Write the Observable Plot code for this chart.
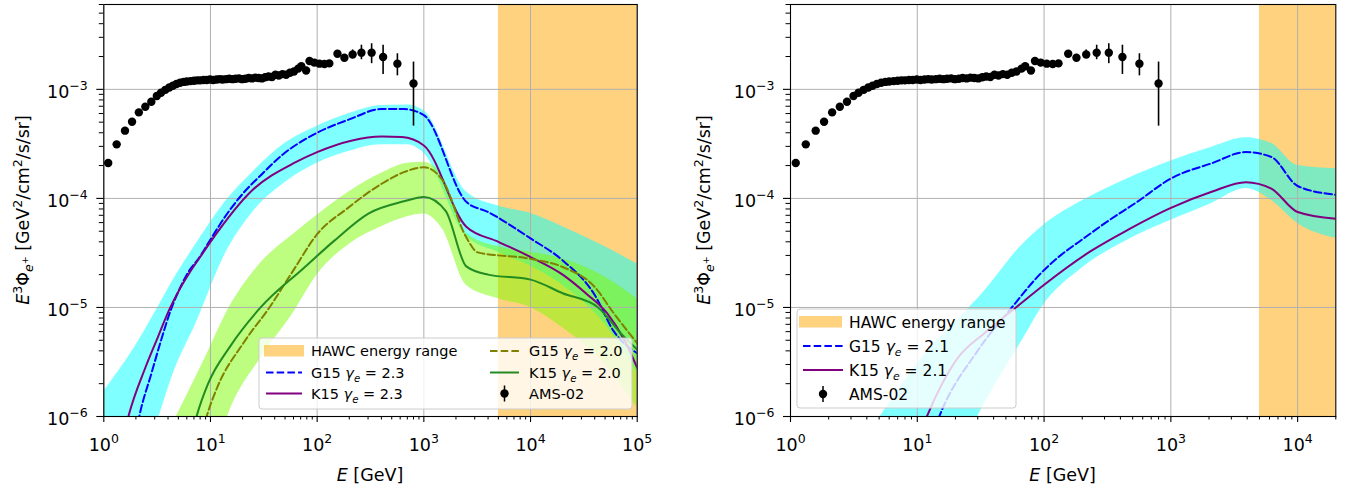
<!DOCTYPE html>
<html><head><meta charset="utf-8">
<script src="https://cdn.jsdelivr.net/npm/d3@7"></script>
<script src="https://cdn.jsdelivr.net/npm/@observablehq/plot@0.6"></script>
<style>
body{margin:0;background:#fff;}
#wrap{position:relative;width:1348px;height:491px;overflow:hidden;}
.panel{position:absolute;top:0;}
</style></head>
<body><div id="wrap"><div id="pl" class="panel" style="left:0"></div><div id="pr" class="panel" style="left:674px"></div></div>
<script>
// ---------- data ----------
const hawcStart = 5000;
// AMS-02 positron flux (E^3 * flux)
const amsE  = [1.10,1.32,1.58,1.84,2.13,2.45,2.79,3.14,3.44,3.78,4.11,4.44,4.80,5.19,5.6,6.0,6.5,7.0,7.5,8.0,8.6,9.2,9.9,10.6,11.4,12.2,13.0,14.0,15.0,16.1,17.2,18.5,19.8,21.3,22.8,24.5,26.3,28.2,30.3,32.5,35.0,37.7,40.6,43.7,47.3,51.2,55.6,60.6,66.4,71,78.8,84.8,94,105,117,130,155,180,215,260,324,415,565,800];
const amsF  = [2.11e-4,3.13e-4,4.18e-4,5.05e-4,6.15e-4,6.93e-4,7.7e-4,8.7e-4,9.3e-4,9.9e-4,1.04e-3,1.08e-3,1.12e-3,1.15e-3,1.17e-3,1.18e-3,1.19e-3,1.20e-3,1.21e-3,1.21e-3,1.22e-3,1.22e-3,1.23e-3,1.22e-3,1.23e-3,1.24e-3,1.23e-3,1.24e-3,1.25e-3,1.24e-3,1.25e-3,1.26e-3,1.24e-3,1.25e-3,1.27e-3,1.26e-3,1.28e-3,1.27e-3,1.26e-3,1.29e-3,1.31e-3,1.30e-3,1.36e-3,1.34e-3,1.38e-3,1.36e-3,1.42e-3,1.46e-3,1.55e-3,1.63e-3,1.49e-3,1.82e-3,1.76e-3,1.72e-3,1.71e-3,1.73e-3,2.12e-3,1.95e-3,2.09e-3,2.17e-3,2.17e-3,1.98e-3,1.72e-3,1.13e-3];
const amsErrE  = [130,155,180,215,260,324,415,565,800];
const amsErrLo = [1.63e-3,1.98e-3,1.82e-3,1.92e-3,1.87e-3,1.72e-3,1.37e-3,1.33e-3,4.6e-4];
const amsErrHi = [1.83e-3,2.27e-3,2.09e-3,2.30e-3,2.54e-3,2.62e-3,2.54e-3,2.12e-3,1.78e-3];

// left panel (gamma_e = 2.3 and 2.0)
const g23E = [2.0,2.15,2.8,3.4,4.2,5,6,8,10,14,20,30,47,100,200,400,650,1000,2500,4000,10000,20000,40000,60000,100000];
const g23F = [7e-7,1e-6,2.5e-6,4.8e-6,9.2e-6,1.4e-5,2e-5,2.95e-5,4.2e-5,7e-5,1.1e-4,1.65e-4,2.5e-4,4.0e-4,5.3e-4,6.6e-4,6.6e-4,5.8e-4,9.3e-5,7.5e-5,4.3e-5,2.7e-5,1.3e-5,6.1e-6,3.8e-6];
const k23E = [1.5,1.7,2.45,3.2,4.1,5.2,6.3,8,10.2,24.5,63,100,405,620,1000,2500,5000,10000,20000,33000,52000,76000,100000];
const k23F = [6e-7,1e-6,2.8e-6,5.3e-6,9.5e-6,1.5e-5,2.05e-5,2.9e-5,4.1e-5,1.18e-4,2.15e-4,2.66e-4,3.7e-4,3.65e-4,3.06e-4,5.5e-5,4.0e-5,2.9e-5,2.0e-5,1.35e-5,8.9e-6,5e-6,2.8e-6];
const g20E = [8,9.2,11.6,20.3,35.7,60,100,192,406,650,1000,1500,2500,3200,9800,20000,40000,60000,100000];
const g20F = [6e-7,1e-6,1.86e-6,4.7e-6,1e-5,2.2e-5,4.7e-5,8.1e-5,1.37e-4,1.74e-4,1.93e-4,1.46e-4,4.4e-5,3.2e-5,2.8e-5,2.35e-5,1.54e-5,8.9e-6,4.7e-6];
const k20E = [6.5,7.4,9.5,15.3,29.5,75,145,305,650,1000,1600,2500,4000,10000,20000,43000,70000,100000];
const k20F = [6e-7,1e-6,2e-6,4.4e-6,1e-5,2.3e-5,4.1e-5,7.3e-5,9.4e-5,1.03e-4,7.7e-5,2.38e-5,2.0e-5,1.8e-5,1.35e-5,1.0e-5,5.8e-6,4.1e-6];
const band23E  = [1,2,3.3,4.5,7.3,14,25,50,100,200,400,700,1000,2500,5000,10000,20000,50000,100000];
const band23Hi = [1.7e-6,4.5e-6,1.05e-5,1.8e-5,3.8e-5,9.5e-5,1.75e-4,3.2e-4,4.6e-4,6e-4,7.1e-4,7.2e-4,6.4e-4,1.15e-4,8.5e-5,7.3e-5,5.5e-5,3.6e-5,2.5e-5];
const band23Lo = [5e-8,2.5e-7,1e-6,2.5e-6,7.1e-6,3.2e-5,7.5e-5,1.4e-4,2.1e-4,2.7e-4,3.1e-4,3.1e-4,2.6e-4,4.5e-5,3.2e-5,2.4e-5,1.6e-5,7e-6,2.5e-6];
const band20E  = [4.8,9,15,30,60,100,200,400,700,1000,1500,2500,5000,10000,20000,50000,100000];
const band20Hi = [1e-6,3.5e-6,1e-5,2.6e-5,4.7e-5,7e-5,1.15e-4,1.7e-4,2.1e-4,2.15e-4,1.6e-4,4.8e-5,3.6e-5,3.2e-5,2.8e-5,1.9e-5,1.2e-5];
const band20Lo = [2e-8,2.2e-7,1.1e-6,3.5e-6,9e-6,2e-5,3.8e-5,5.5e-5,6.8e-5,7.2e-5,5.2e-5,1.6e-5,1.2e-5,1e-5,6.5e-6,3e-6,1.2e-6];

// right panel (gamma_e = 2.1)
const g21E = [12,14.9,29.9,55.7,96,130,200,300,550,980,2100,3900,6200,10000,20000];
const g21F = [5e-7,1e-6,4e-6,1e-5,2.1e-5,2.9e-5,4.2e-5,5.9e-5,9.4e-5,1.5e-4,2.1e-4,2.66e-4,2.4e-4,1.3e-4,1.08e-4];
const k21E = [10,11.9,20.3,35,60,99,235,465,980,2100,3900,6200,10000,20000];
const k21F = [6e-7,1e-6,3.3e-6,6e-6,1e-5,1.6e-5,3.3e-5,5.2e-5,8.1e-5,1.15e-4,1.41e-4,1.23e-4,7.5e-5,6.5e-5];
const band21E  = [3,5.1,11,25.8,30,68,96,200,446,1000,2100,3900,6200,10000,20000];
const band21Hi = [4e-7,1e-6,3.5e-6,1e-5,1.2e-5,3.8e-5,5.5e-5,9.5e-5,1.5e-4,2.2e-4,2.95e-4,3.6e-4,3.2e-4,2.0e-4,1.87e-4];
const band21Lo = [1e-8,3e-8,1.3e-7,7e-7,1e-6,5.1e-6,1e-5,2.3e-5,4.1e-5,6.3e-5,9e-5,1.23e-4,9.6e-5,5.9e-5,4.3e-5];

const yTicks = [1e-6,1e-5,1e-4,1e-3];
const xTicksL = [1,10,100,1e3,1e4,1e5];
const xTicksR = [1,10,100,1e3,1e4];
const yDomain = [1e-6, 6e-3];

// ---------- helpers ----------
const zip = (E, F) => E.map((e,i)=>({E:e, F:F[i]}));
const zipBand = (E, lo, hi) => E.map((e,i)=>({E:e, lo:lo[i], hi:hi[i]}));
const ams = zip(amsE, amsF);
const amsErr = amsErrE.map((e,i)=>({E:e, lo:amsErrLo[i], hi:amsErrHi[i]}));
function minorTicks(lo, hi){ const out=[]; for(let d=lo; d<hi; d*=10) for(let k=2;k<10;k++){ if(d*k<=hi*1.0001) out.push(d*k);} return out; }
const FONT = "DejaVu Sans";
const fmt = d => "10^" + Math.round(Math.log10(d));
const NS = "http://www.w3.org/2000/svg";
const DASH = "7.5,3.2";
const CURVE = "monotone-x";

function gridMarks(xTicks){
  return [
    Plot.gridX(xTicks, {stroke:"#b0b0b0", strokeOpacity:1, strokeWidth:1}),
    Plot.gridY(yTicks, {stroke:"#b0b0b0", strokeOpacity:1, strokeWidth:1}),
  ];
}
function tickMarks(xTicks, xDom){
  return [
    Plot.axisX(xTicks, {anchor:"bottom", tickSize:6, tickPadding:16, tickFormat:fmt, fontSize:17.5, label:null, strokeWidth:1.1}),
    Plot.axisX(minorTicks(xDom[0], xDom[1]), {anchor:"bottom", tickSize:3.5, tickFormat:()=>"", label:null, strokeWidth:1}),
    Plot.axisY(yTicks, {anchor:"left", tickSize:7, tickPadding:9, tickFormat:fmt, fontSize:17.5, label:null, strokeWidth:1.1}),
    Plot.axisY(minorTicks(1e-6, 6e-3), {anchor:"left", tickSize:4.5, tickFormat:()=>"", label:null, strokeWidth:1}),
    Plot.frame({stroke:"#000", strokeWidth:1.1})
  ];
}

function supLabels(svg){
  svg.querySelectorAll("text").forEach(t=>{
    const m = t.textContent.match(/^10\^(-?\d+)$/);
    if(!m) return;
    const isY = t.closest('g[aria-label^="y-axis"]') !== null;
    t.textContent = "";
    const b = document.createElementNS(NS,"tspan"); b.textContent = "10";
    if(isY) b.setAttribute("dy", "3");
    const s = document.createElementNS(NS,"tspan"); s.textContent = m[1].replace("-", "\u2212");
    s.setAttribute("font-size", "12.5"); s.setAttribute("dy", "-8");
    t.append(b, s);
  });
}

function addLabels(svg, cx, ylabCx){
  const g = d3.select(svg).append("g").attr("font-family", FONT).attr("fill","#000");
  const xt = g.append("text").attr("x", cx).attr("y", 481).attr("text-anchor","middle").attr("font-size", 17.5);
  xt.append("tspan").attr("font-style","italic").text("E");
  xt.append("tspan").text(" [GeV]");
  const yt = g.append("text").attr("transform", `translate(${ylabCx},210) rotate(-90)`).attr("text-anchor","middle").attr("font-size",17.5);
  yt.append("tspan").attr("font-style","italic").text("E");
  yt.append("tspan").attr("font-size",12.5).attr("dy",-7).text("3");
  yt.append("tspan").attr("dy",7).text("\u03A6");
  yt.append("tspan").attr("font-size",12.5).attr("font-style","italic").attr("dy",4).text("e");
  yt.append("tspan").attr("font-size",9.5).attr("dy",-5).text("+");
  yt.append("tspan").attr("dy",1).text(" [GeV");
  yt.append("tspan").attr("font-size",12.5).attr("dy",-7).text("2");
  yt.append("tspan").attr("dy",7).text("/cm");
  yt.append("tspan").attr("font-size",12.5).attr("dy",-7).text("2");
  yt.append("tspan").attr("dy",7).text("/s/sr]");
}

function gammaLabel(sel, name, val){
  sel.append("tspan").text(name + " ");
  sel.append("tspan").attr("font-style","italic").text("\u03B3");
  sel.append("tspan").attr("font-style","italic").attr("font-size","0.7em").attr("dy",4).text("e");
  sel.append("tspan").attr("dy",-4).text(" = " + val);
}

function legend(svg, box, fontSize, items){
  const g = d3.select(svg).append("g").attr("font-family", FONT).attr("font-size", fontSize).attr("text-anchor","start");
  g.append("rect").attr("x",box.x).attr("y",box.y).attr("width",box.w).attr("height",box.h)
    .attr("rx",3).attr("fill","#fff").attr("fill-opacity",0.8).attr("stroke","#cccccc").attr("stroke-width",1);
  for(const it of items){
    const [hx1,hx2] = it.hx, y = it.y;
    if(it.type==="patch") g.append("rect").attr("x",hx1).attr("y",y-6).attr("width",hx2-hx1).attr("height",11.5).attr("fill","#ffa500").attr("fill-opacity",0.5);
    if(it.type==="line") g.append("line").attr("x1",hx1).attr("x2",hx2).attr("y1",y).attr("y2",y).attr("stroke",it.color).attr("stroke-width",2).attr("stroke-dasharray", it.dash?DASH:null);
    if(it.type==="err"){ const cx=(hx1+hx2)/2; g.append("line").attr("x1",cx).attr("x2",cx).attr("y1",y-8).attr("y2",y+8).attr("stroke","#000").attr("stroke-width",1.5); g.append("circle").attr("cx",cx).attr("cy",y).attr("r",4.2).attr("fill","#000"); }
    const t = g.append("text").attr("x",it.tx).attr("y",y).attr("dy","0.36em").attr("fill","#000").attr("text-anchor","start");
    if(it.gamma) gammaLabel(t, it.gamma[0], it.gamma[1]); else t.text(it.text);
  }
}

// ---------- left panel ----------
const L = Plot.plot({
  width:674, height:491, marginLeft:103.3, marginRight:37.3, marginTop:4, marginBottom:75,
  style:{fontFamily:FONT, background:"#fff", color:"#000"},
  x:{type:"log", domain:[1,1e5]},
  y:{type:"log", domain:yDomain},
  marks:[
    Plot.rect([{x1:hawcStart, x2:1e5}], {x1:"x1", x2:"x2", fill:"#ffa500", fillOpacity:0.5}),
    Plot.areaY(zipBand(band23E, band23Lo, band23Hi), {x:"E", y1:"lo", y2:"hi", fill:"#00ffff", fillOpacity:0.5, curve:CURVE, clip:true}),
    Plot.areaY(zipBand(band20E, band20Lo, band20Hi), {x:"E", y1:"lo", y2:"hi", fill:"#7cfc00", fillOpacity:0.5, curve:CURVE, clip:true}),
    ...gridMarks(xTicksL),
    Plot.line(zip(g23E,g23F), {x:"E", y:"F", stroke:"#0000ff", strokeWidth:2, strokeDasharray:DASH, curve:CURVE, clip:true}),
    Plot.line(zip(k23E,k23F), {x:"E", y:"F", stroke:"#800080", strokeWidth:2, curve:CURVE, clip:true}),
    Plot.line(zip(g20E,g20F), {x:"E", y:"F", stroke:"#808000", strokeWidth:2, strokeDasharray:DASH, curve:CURVE, clip:true}),
    Plot.line(zip(k20E,k20F), {x:"E", y:"F", stroke:"#228b22", strokeWidth:2, curve:CURVE, clip:true}),
    Plot.ruleX(amsErr, {x:"E", y1:"lo", y2:"hi", stroke:"#000", strokeWidth:1.6}),
    Plot.dot(ams, {x:"E", y:"F", r:4.2, fill:"#000", stroke:null}),
    ...tickMarks(xTicksL, [1,1e5])
  ]
});
supLabels(L);
addLabels(L, 370, 29);
legend(L, {x:259, y:338, w:373, h:71}, 14.5, [
  {type:"patch", hx:[264,304], y:351, tx:311, text:"HAWC energy range"},
  {type:"line", dash:true, color:"#0000ff", hx:[266,302], y:372.5, tx:311, gamma:["G15","2.3"]},
  {type:"line", color:"#800080", hx:[266,302], y:393.5, tx:311, gamma:["K15","2.3"]},
  {type:"line", dash:true, color:"#808000", hx:[490,519], y:351, tx:529, gamma:["G15","2.0"]},
  {type:"line", color:"#228b22", hx:[490,519], y:372.5, tx:529, gamma:["K15","2.0"]},
  {type:"err", hx:[490,519], y:393.5, tx:529, text:"AMS-02"}
]);
document.getElementById("pl").append(L);

// ---------- right panel ----------
const R = Plot.plot({
  width:674, height:491, marginLeft:116, marginRight:12.7, marginTop:4, marginBottom:75,
  style:{fontFamily:FONT, background:"#fff", color:"#000"},
  x:{type:"log", domain:[1,2e4]},
  y:{type:"log", domain:yDomain},
  marks:[
    Plot.rect([{x1:hawcStart, x2:2e4}], {x1:"x1", x2:"x2", fill:"#ffa500", fillOpacity:0.5}),
    Plot.areaY(zipBand(band21E, band21Lo, band21Hi), {x:"E", y1:"lo", y2:"hi", fill:"#00ffff", fillOpacity:0.5, curve:CURVE, clip:true}),
    ...gridMarks(xTicksR),
    Plot.line(zip(g21E,g21F), {x:"E", y:"F", stroke:"#0000ff", strokeWidth:2, strokeDasharray:DASH, curve:CURVE, clip:true}),
    Plot.line(zip(k21E,k21F), {x:"E", y:"F", stroke:"#800080", strokeWidth:2, curve:CURVE, clip:true}),
    Plot.ruleX(amsErr, {x:"E", y1:"lo", y2:"hi", stroke:"#000", strokeWidth:1.6}),
    Plot.dot(ams, {x:"E", y:"F", r:4.2, fill:"#000", stroke:null}),
    ...tickMarks(xTicksR, [1,2e4])
  ]
});
supLabels(R);
addLabels(R, 116 + (674-116-12.7)/2, 36);
legend(R, {x:123, y:309, w:219, h:99}, 15.5, [
  {type:"patch", hx:[125,168], y:322, tx:175, text:"HAWC energy range"},
  {type:"line", dash:true, color:"#0000ff", hx:[129,169], y:346, tx:175, gamma:["G15","2.1"]},
  {type:"line", color:"#800080", hx:[129,169], y:370, tx:175, gamma:["K15","2.1"]},
  {type:"err", hx:[129,169], y:394, tx:175, text:"AMS-02"}
]);
document.getElementById("pr").append(R);
</script></body></html>
